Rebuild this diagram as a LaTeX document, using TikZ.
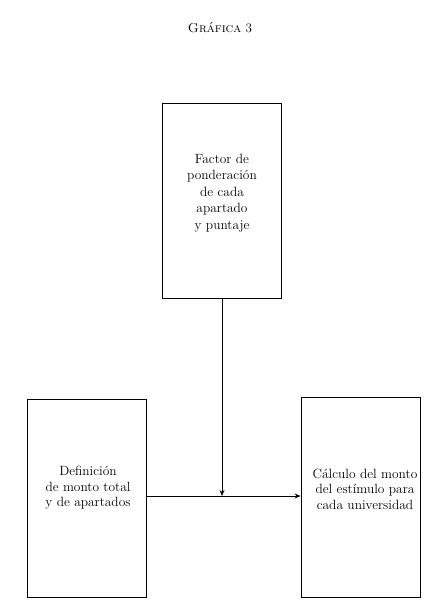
\documentclass[tikz,border=0pt]{standalone}
\usetikzlibrary{arrows.meta}
\begin{document}
\begin{tikzpicture}[x=1pt,y=-1pt,
  boxstyle/.style={draw,line width=0.9pt,inner sep=0pt},
  lbl/.style={align=center,font=\fontsize{13.4}{16.5}\selectfont},
  lblbig/.style={align=center,font=\fontsize{13.4}{15.5}\selectfont},
  conn/.style={line width=0.8pt,-{Stealth[length=6pt,width=5pt]}}]
\useasboundingbox (0,0) rectangle (443,606);
\node (title) at (220,28) {\fontsize{13}{15}\selectfont\textsc{Gráfica} 3};
\node[boxstyle,minimum width=119pt,minimum height=195pt] (top) at (222,201) {};
\node[boxstyle,minimum width=119pt,minimum height=198pt] (left) at (86.5,498) {};
\node[boxstyle,minimum width=119pt,minimum height=200pt] (right) at (360.5,497) {};
\node[lbl] (toptxt) at (222,193) {Factor de\\ponderación\\de cada\\apartado\\y puntaje};
\node[lblbig] (lefttxt) at (88,488) {Definición\\de monto total\\y de apartados};
\node[lblbig] (righttxt) at (365,489) {Cálculo del monto\\del estímulo para\\cada universidad};
\coordinate (join) at (top.south |- 0,496);
\draw[conn] (left.east |- join) -- (right.west |- join);
\draw[conn] (top.south) -- (join);
\end{tikzpicture}
\end{document}
